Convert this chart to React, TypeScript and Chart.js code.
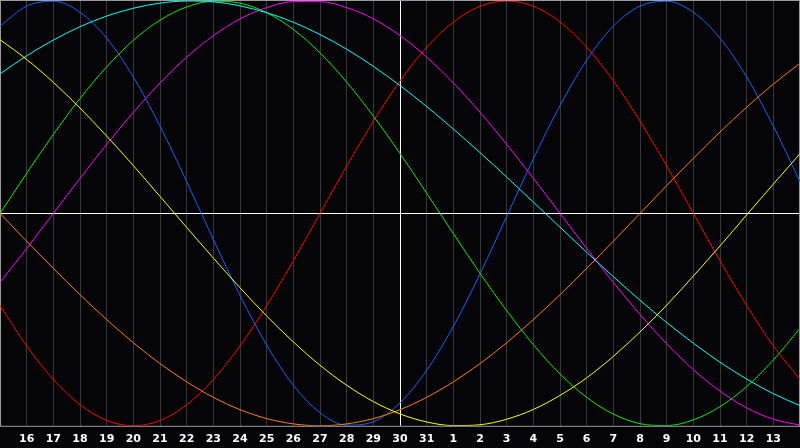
import React, { useEffect, useRef } from "react";
import { Chart, registerables } from "chart.js";

Chart.register(...registerables);

const dayLabels = [
  "15", "16", "17", "18", "19", "20", "21", "22", "23", "24", "25", "26", "27", "28", "29", "30", "31",
  "1", "2", "3", "4", "5", "6", "7", "8", "9", "10", "11", "12", "13", "14",
];
const todayIndex = 15;

const blueValues = [0.882, 0.976, 0.999, 0.947, 0.825, 0.642, 0.411, 0.150, -0.123, -0.386, -0.620, -0.809, -0.938, -0.997, -0.981, -0.892, -0.739, -0.532, -0.285, -0.014, 0.257, 0.508, 0.721, 0.882, 0.976, 0.999, 0.947, 0.825, 0.642, 0.411, 0.150];
const redValues = [-0.434, -0.624, -0.782, -0.901, -0.975, -1.0, -0.975, -0.901, -0.782, -0.624, -0.434, -0.223, 0.0, 0.223, 0.434, 0.624, 0.782, 0.901, 0.975, 1.0, 0.975, 0.901, 0.782, 0.624, 0.434, 0.223, 0.0, -0.223, -0.434, -0.624, -0.782];
const greenValues = [0.0, 0.189, 0.372, 0.541, 0.690, 0.815, 0.910, 0.972, 0.999, 0.990, 0.945, 0.866, 0.756, 0.618, 0.458, 0.282, 0.095, -0.095, -0.282, -0.458, -0.618, -0.756, -0.866, -0.945, -0.990, -0.999, -0.972, -0.910, -0.815, -0.690, -0.541];
const magentaValues = [-0.325, -0.165, 0.0, 0.165, 0.325, 0.476, 0.614, 0.736, 0.837, 0.916, 0.969, 0.997, 0.997, 0.969, 0.916, 0.837, 0.736, 0.614, 0.476, 0.325, 0.165, 0.0, -0.165, -0.325, -0.476, -0.614, -0.736, -0.837, -0.916, -0.969, -0.997];
const yellowValues = [0.818, 0.725, 0.617, 0.496, 0.364, 0.225, 0.080, -0.066, -0.210, -0.350, -0.483, -0.605, -0.715, -0.809, -0.886, -0.944, -0.982, -0.999, -0.995, -0.969, -0.923, -0.857, -0.774, -0.673, -0.558, -0.432, -0.295, -0.153, -0.007, 0.138, 0.281];
const orangeValues = [0.0, -0.131, -0.259, -0.383, -0.5, -0.609, -0.707, -0.793, -0.866, -0.924, -0.966, -0.991, -1.0, -0.991, -0.966, -0.924, -0.866, -0.793, -0.707, -0.609, -0.5, -0.383, -0.259, -0.131, 0.0, 0.131, 0.259, 0.383, 0.5, 0.609, 0.707];
const cyanValues = [0.657, 0.742, 0.816, 0.879, 0.929, 0.966, 0.990, 1.0, 0.996, 0.977, 0.945, 0.900, 0.842, 0.773, 0.692, 0.602, 0.503, 0.397, 0.286, 0.171, 0.053, -0.065, -0.183, -0.298, -0.409, -0.514, -0.611, -0.701, -0.780, -0.849, -0.905];

const seriesList = [
  { name: "yellow", color: "#ffff00", values: yellowValues },
  { name: "orange", color: "#ff8000", values: orangeValues },
  { name: "cyan", color: "#00ffff", values: cyanValues },
  { name: "magenta", color: "#ff00ff", values: magentaValues },
  { name: "green", color: "#00f000", values: greenValues },
  { name: "red", color: "#ff0000", values: redValues },
  { name: "blue", color: "#1464ff", values: blueValues },
];

const framePlugin = {
  id: "frame",
  beforeDraw(chart: any) {
    const { ctx, width, height } = chart;
    ctx.save();
    ctx.fillStyle = "#050507";
    ctx.fillRect(0, 0, width, height);
    ctx.restore();
  },
  beforeDatasetsDraw(chart: any) {
    const { ctx, chartArea, scales } = chart;
    const y0 = Math.round(scales.y.getPixelForValue(0)) + 0.5;
    const xt = Math.round(scales.x.getPixelForValue(todayIndex)) + 0.5;
    ctx.save();
    ctx.lineWidth = 1;
    ctx.strokeStyle = "#ffffff";
    ctx.beginPath();
    ctx.moveTo(chartArea.left, y0);
    ctx.lineTo(chartArea.right, y0);
    ctx.moveTo(xt, chartArea.top);
    ctx.lineTo(xt, chartArea.bottom);
    ctx.stroke();
    ctx.strokeStyle = "#9a9a9a";
    ctx.strokeRect(
      chartArea.left + 0.5,
      chartArea.top - 0.5,
      chartArea.right - chartArea.left - 1,
      chartArea.bottom - chartArea.top + 1
    );
    ctx.restore();
  },
};

export default function App() {
  const ref = useRef<HTMLCanvasElement | null>(null);
  useEffect(() => {
    document.body.style.margin = "0";
    const canvas = ref.current;
    if (!canvas) return;
    const chart = new Chart(canvas, {
      type: "line",
      data: {
        labels: dayLabels,
        datasets: seriesList.map((s) => ({
          label: s.name,
          data: s.values,
          borderColor: s.color,
          borderWidth: 1,
          pointRadius: 0,
          cubicInterpolationMode: "monotone",
          fill: false,
        })),
      },
      options: {
        responsive: false,
        animation: false,
        events: [],
        layout: { padding: { top: 1, left: 0, right: 0, bottom: 2 } },
        plugins: { legend: { display: false }, tooltip: { enabled: false } },
        scales: {
          x: {
            type: "category",
            offset: false,
            border: { display: false },
            grid: { color: "#383838", lineWidth: 1, drawTicks: true, tickLength: 7, tickColor: "rgba(0,0,0,0)" },
            ticks: {
              autoSkip: false,
              maxRotation: 0,
              padding: 0,
              color: "#ffffff",
              font: { family: "'DejaVu Sans'", size: 11, weight: "bold" },
              callback: (_v: any, i: number) => (i === 0 || i === dayLabels.length - 1 ? "" : dayLabels[i]),
            },
          },
          y: {
            display: false,
            min: -1,
            max: 1,
          },
        },
      },
      plugins: [framePlugin],
    });
    return () => chart.destroy();
  }, []);
  return (
    <div style={{ width: 800, height: 448, background: "#050507" }}>
      <canvas ref={ref} width={800} height={448} style={{ display: "block" }} />
    </div>
  );
}
